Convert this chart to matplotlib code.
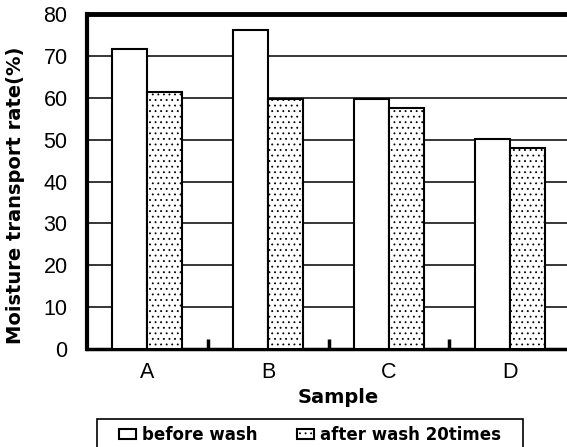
import matplotlib
matplotlib.use("Agg")
import matplotlib.pyplot as plt
from matplotlib.patches import Rectangle
import numpy as np

plt.rcParams['font.family'] = ['Liberation Sans', 'DejaVu Sans']
plt.rcParams['hatch.linewidth'] = 0.6

samples = ["A", "B", "C", "D"]
before_wash = [71.6, 76.1, 59.7, 50.2]
after_wash = [61.4, 59.7, 57.5, 48.0]
yticks = [0, 10, 20, 30, 40, 50, 60, 70, 80]

fig = plt.figure(figsize=(5.67, 4.47), dpi=100)
ax = fig.add_axes([0.1534, 0.2192, 0.852, 0.7494])

x = np.arange(len(samples))
w = 0.29
ax.bar(x - w / 2, before_wash, w, color="white", edgecolor="black",
       linewidth=1.5, zorder=3, label="before wash")
ax.bar(x + w / 2, after_wash, w, color="white", edgecolor="black",
       linewidth=1.5, hatch="...", zorder=3, label="after wash 20times")

ax.set_xlim(-0.5, 3.5)
ax.set_ylim(0, 80)
ax.set_yticks(yticks)
ax.set_xticks(x)
ax.set_xticklabels(samples)
ax.set_xticks([0.5, 1.5, 2.5], minor=True)
ax.tick_params(axis="y", length=0, pad=14, labelsize=15.5)
ax.tick_params(axis="x", which="major", length=0, pad=9, labelsize=15.5)
ax.tick_params(axis="x", which="minor", direction="in", length=7, width=2.5)

ax.grid(axis="y", color="black", linewidth=1.1, zorder=0)
ax.set_axisbelow(True)

ax.spines["right"].set_visible(False)
ax.spines["left"].set_linewidth(3)
ax.spines["top"].set_linewidth(3.5)
ax.spines["bottom"].set_linewidth(2.5)

bold = {"family": "DejaVu Sans", "weight": "bold"}
ax.set_ylabel("Moisture transport rate(%)", fontsize=14, fontdict=bold)
ax.yaxis.set_label_coords(-0.128, 0.46)
ax.set_xlabel("Sample", fontsize=14, fontdict=bold)
ax.xaxis.set_label_coords(0.52, -0.115)

# legend box, open at the bottom edge of the figure
fig.patches.append(Rectangle((97 / 567, -0.05), 426 / 567, 0.05 + 28 / 447,
                             transform=fig.transFigure, fill=False,
                             edgecolor="black", linewidth=1.2))
fig.legend(loc="upper left", bbox_to_anchor=(119 / 567, 1 - 426 / 447), ncol=2,
           frameon=False, prop={"family": "DejaVu Sans", "size": 12,
                                "weight": "bold"},
           handlelength=1.0, handleheight=0.6, handletextpad=0.35,
           columnspacing=2.4, borderpad=0, borderaxespad=0)

fig.savefig("out.png", dpi=100)
